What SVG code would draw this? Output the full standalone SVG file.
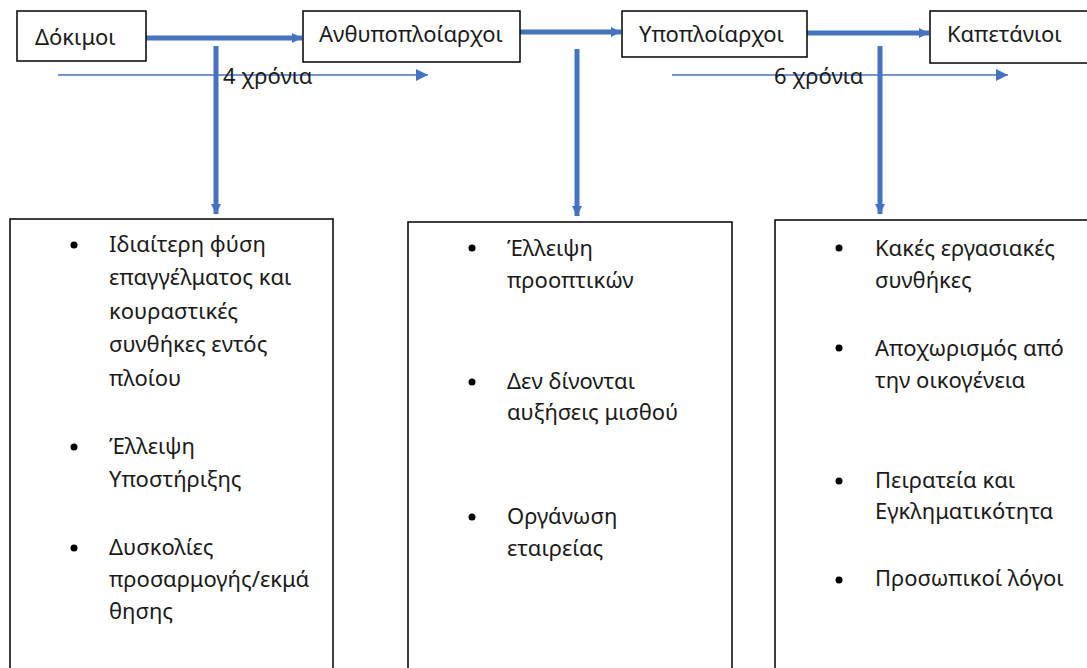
<svg xmlns="http://www.w3.org/2000/svg" width="1087" height="668" viewBox="0 0 1087 668">
<style>
.box{fill:#fff;stroke:#000;stroke-width:1.5}
.t{font-family:"Noto Sans","Liberation Sans",Arial,sans-serif;font-size:22px;fill:#1a1a1a}
.thick{stroke:#4472C4;stroke-width:5;fill:none}
.thin{stroke:#4472C4;stroke-width:1.5;fill:none}
.dot{fill:#000}
</style>
<defs>
<marker id="ah" markerUnits="userSpaceOnUse" markerWidth="12" markerHeight="12" refX="10" refY="6" orient="auto"><path d="M0,1 L10,6 L0,11 Z" fill="#4472C4"/></marker>
<marker id="ah2" markerUnits="userSpaceOnUse" markerWidth="14" markerHeight="14" refX="12" refY="7" orient="auto"><path d="M0,1 L12,7 L0,13 Z" fill="#4472C4"/></marker>
</defs>
<rect width="1087" height="668" fill="#fff"/>
<g id="connectors">
<line class="thick" x1="146" y1="38" x2="302" y2="38" marker-end="url(#ah)"/>
<line class="thick" x1="520" y1="32" x2="621" y2="32" marker-end="url(#ah)"/>
<line class="thick" x1="807" y1="33" x2="929" y2="33" marker-end="url(#ah)"/>
<line class="thick" x1="216" y1="46" x2="216" y2="214" marker-end="url(#ah)"/>
<line class="thick" x1="577" y1="49" x2="577" y2="216" marker-end="url(#ah)"/>
<line class="thick" x1="880" y1="46" x2="880" y2="214" marker-end="url(#ah)"/>
<line class="thin" x1="58" y1="75" x2="428" y2="75" marker-end="url(#ah2)"/>
<line class="thin" x1="672" y1="75" x2="1008" y2="75" marker-end="url(#ah2)"/>
</g>
<g id="label-4">
<text class="t" x="223" y="84">4 χρόνια</text>
</g>
<g id="label-6">
<text class="t" x="774" y="84">6 χρόνια</text>
</g>
<g id="node-dokimoi">
<rect class="box" x="17" y="11" width="129" height="50"/>
<text class="t" x="35" y="45">Δόκιμοι</text>
</g>
<g id="node-anthypoploiarchoi">
<rect class="box" x="303" y="11" width="217" height="51"/>
<text class="t" x="319" y="42">Ανθυποπλοίαρχοι</text>
</g>
<g id="node-ypoploiarchoi">
<rect class="box" x="622" y="11" width="185" height="46"/>
<text class="t" x="639" y="42">Υποπλοίαρχοι</text>
</g>
<g id="node-kapetanioi">
<rect class="box" x="930" y="11" width="160" height="52"/>
<text class="t" x="947" y="42">Καπετάνιοι</text>
</g>
<g id="box-left">
<rect class="box" x="10" y="219" width="323" height="460"/>
<circle class="dot" cx="74" cy="245" r="3.5"/>
<text class="t" x="109" y="252">Ιδιαίτερη φύση</text>
<text class="t" x="109" y="285">επαγγέλματος και</text>
<text class="t" x="109" y="319">κουραστικές</text>
<text class="t" x="109" y="352">συνθήκες εντός</text>
<text class="t" x="109" y="386">πλοίου</text>
<circle class="dot" cx="74" cy="447" r="3.5"/>
<text class="t" x="109" y="454">Έλλειψη</text>
<text class="t" x="109" y="487">Υποστήριξης</text>
<circle class="dot" cx="74" cy="548" r="3.5"/>
<text class="t" x="109" y="555">Δυσκολίες</text>
<text class="t" x="109" y="587">προσαρμογής/εκμά</text>
<text class="t" x="109" y="619">θησης</text>
</g>
<g id="box-middle">
<rect class="box" x="408" y="222" width="324" height="460"/>
<circle class="dot" cx="472" cy="248" r="3.5"/>
<text class="t" x="507" y="256">Έλλειψη</text>
<text class="t" x="507" y="288">προοπτικών</text>
<circle class="dot" cx="472" cy="382" r="3.5"/>
<text class="t" x="507" y="389">Δεν δίνονται</text>
<text class="t" x="507" y="420">αυξήσεις μισθού</text>
<circle class="dot" cx="472" cy="517" r="3.5"/>
<text class="t" x="507" y="524">Οργάνωση</text>
<text class="t" x="507" y="556">εταιρείας</text>
</g>
<g id="box-right">
<rect class="box" x="775" y="220" width="320" height="460"/>
<circle class="dot" cx="839" cy="248" r="3.5"/>
<text class="t" x="875" y="256">Κακές εργασιακές</text>
<text class="t" x="875" y="288">συνθήκες</text>
<circle class="dot" cx="839" cy="348" r="3.5"/>
<text class="t" x="875" y="356">Αποχωρισμός από</text>
<text class="t" x="875" y="388">την οικογένεια</text>
<circle class="dot" cx="839" cy="481" r="3.5"/>
<text class="t" x="875" y="488">Πειρατεία και</text>
<text class="t" x="875" y="519">Εγκληματικότητα</text>
<circle class="dot" cx="839" cy="580" r="3.5"/>
<text class="t" x="875" y="586">Προσωπικοί λόγοι</text>
</g>
</svg>
